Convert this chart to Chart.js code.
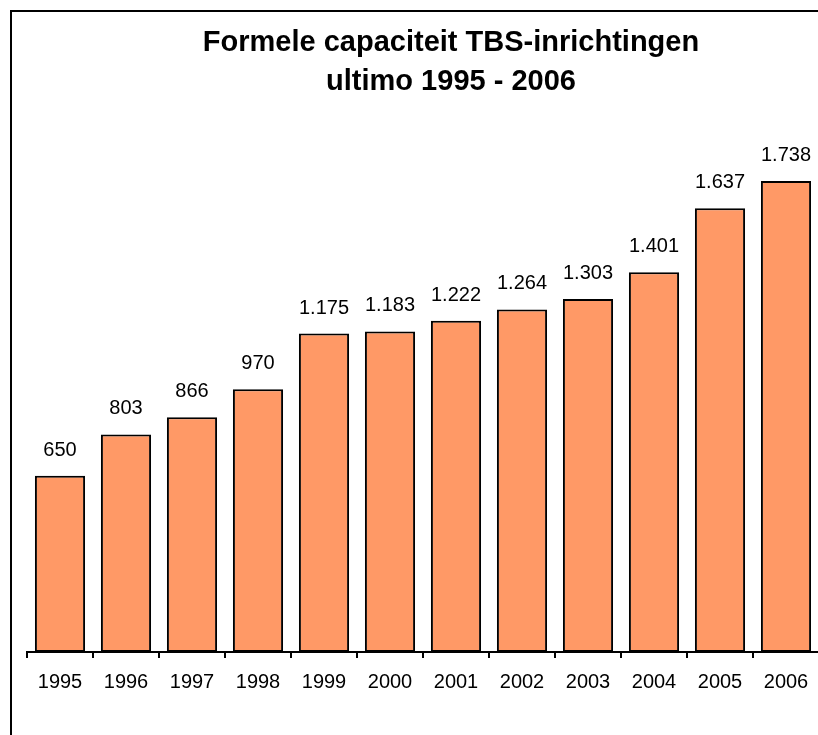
<!DOCTYPE html>
<html>
<head>
<meta charset="utf-8">
<script src="https://cdn.jsdelivr.net/npm/chart.js@4/dist/chart.umd.min.js"></script>
<style>
  html, body { margin: 0; padding: 0; background: #fff; overflow: hidden; width: 818px; height: 735px; }
  #frame { position: absolute; left: 10px; top: 10px; width: 900px; height: 900px; border: 2px solid #000; box-sizing: border-box; }
  #c { position: absolute; left: 0; top: 0; }
</style>
</head>
<body>
<div id="frame"></div>
<canvas id="c" width="902" height="735"></canvas>
<script>
const years = ['1995','1996','1997','1998','1999','2000','2001','2002','2003','2004','2005','2006'];
const capacity = [650, 803, 866, 970, 1175, 1183, 1222, 1264, 1303, 1401, 1637, 1738];
const titleLines = ['Formele capaciteit TBS-inrichtingen', 'ultimo 1995 - 2006'];

function fmtNL(v) {
  return String(v).replace(/\B(?=(\d{3})+(?!\d))/g, '.');
}

const titlePlugin = {
  id: 'customTitle',
  afterDraw(chart) {
    const ctx = chart.ctx;
    ctx.save();
    ctx.fillStyle = '#000';
    ctx.font = 'bold 29px "Liberation Sans", Arial, sans-serif';
    ctx.textAlign = 'center';
    ctx.textBaseline = 'alphabetic';
    ctx.fillText(titleLines[0], 451, 51);
    ctx.fillText(titleLines[1], 451, 90);
    ctx.restore();
  }
};

const valueLabels = {
  id: 'valueLabels',
  afterDatasetsDraw(chart) {
    const ctx = chart.ctx;
    const meta = chart.getDatasetMeta(0);
    ctx.save();
    ctx.fillStyle = '#000';
    ctx.font = '20px "Liberation Sans", Arial, sans-serif';
    ctx.textAlign = 'center';
    ctx.textBaseline = 'alphabetic';
    meta.data.forEach((bar, i) => {
      ctx.fillText(fmtNL(chart.data.datasets[0].data[i]), bar.x, bar.y - 20);
    });
    ctx.restore();
  }
};

new Chart(document.getElementById('c'), {
  type: 'bar',
  data: {
    labels: years,
    datasets: [{
      data: capacity,
      backgroundColor: '#FF9966',
      borderColor: '#000',
      borderWidth: 2,
      borderSkipped: false,
      categoryPercentage: 1,
      barPercentage: 0.76
    }]
  },
  options: {
    responsive: false,
    devicePixelRatio: 1,
    animation: false,
    layout: { padding: { left: 27, right: 83, top: 110, bottom: 0 } },
    plugins: { legend: { display: false }, title: { display: false }, tooltip: { enabled: false } },
    scales: {
      x: {
        offset: true,
        grid: { offset: true, drawOnChartArea: false, drawTicks: true, tickLength: 6, color: '#000', lineWidth: 2 },
        border: { display: true, color: '#000', width: 2 },
        ticks: { color: '#000', font: { family: '"Liberation Sans", Arial, sans-serif', size: 20 }, padding: 12, maxRotation: 0, autoSkip: false },
        afterFit(scale) { scale.height = 83; }
      },
      y: {
        display: false,
        min: 0,
        max: 2000
      }
    }
  },
  plugins: [titlePlugin, valueLabels]
});
</script>
</body>
</html>
